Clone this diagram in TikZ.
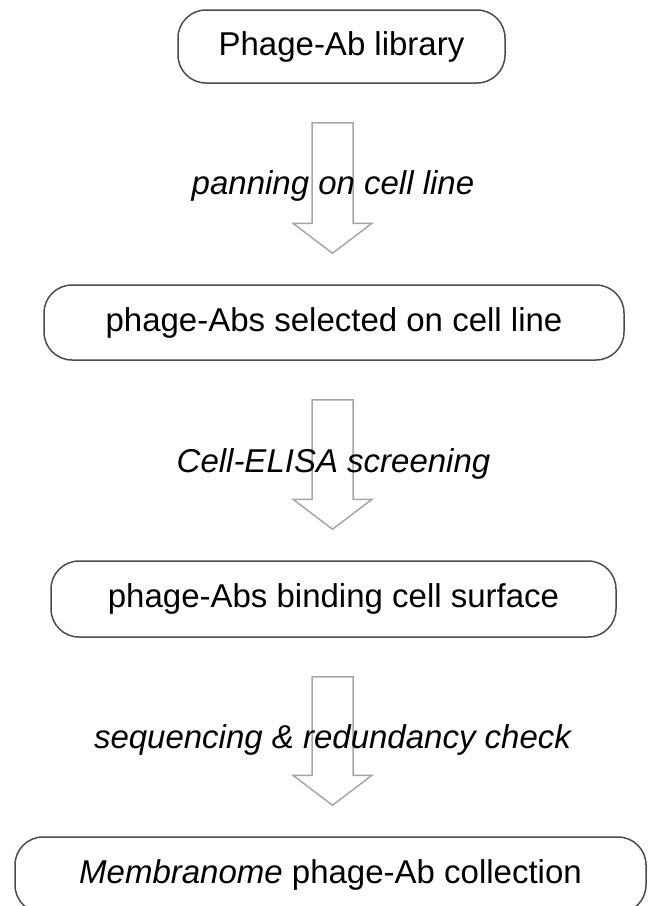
\documentclass[tikz,border=0pt]{standalone}
\usepackage{fontspec}
\setmainfont{Liberation Sans}
\usetikzlibrary{calc}

\begin{document}
\begin{tikzpicture}[x=0.5pt,y=-0.5pt,
  stage/.style={draw=black!70,line width=0.75pt,rounded corners=14pt,inner sep=0pt,
    minimum height=38pt,font=\fontsize{16.5}{20}\selectfont},
  steplbl/.style={font=\fontsize{16.5}{20}\selectfont\itshape},
  blockarrow/.style={draw=black!35,line width=0.75pt,line join=miter}
]
\clip (0,0) rectangle (653,906);

\node[stage,minimum width=163.5pt,minimum height=36.5pt] (lib) at (341.5,46.5) {Phage-Ab library\hspace{9pt}};
\node[stage,minimum width=290pt,minimum height=37.5pt] (sel) at (334,322.5) {phage-Abs selected on cell line};
\node[stage,minimum width=282.5pt] (bind) at (333.5,599) {phage-Abs binding cell surface};
\node[stage,minimum width=315.5pt] (coll) at (330.5,875) {\textit{Membranome} phage-Ab collection};

% hollow block arrows between the stages
\coordinate (axis) at (332.5,0);
\foreach \a/\b in {lib/sel,sel/bind,bind/coll}{
  \coordinate (s) at ($(axis |- \a.south)+(0,39)$);
  \coordinate (t) at ($(axis |- \b.north)+(0,-31)$);
  \draw[blockarrow] (s) ++(-20.5,0) -- ++(41,0) -- ($(t)+(20.5,-30)$) -- ++(19,0)
    -- (t) -- ++(-39.5,-30) -- ++(19,0) -- cycle;
}

\node[steplbl] (pan)  at (333,186)   {panning on cell line};
\node[steplbl] (elisa) at (333.5,463.5) {Cell-ELISA screening};
\node[steplbl] (seq)  at (332.5,739.5) {sequencing \& redundancy check};
\end{tikzpicture}
\end{document}
